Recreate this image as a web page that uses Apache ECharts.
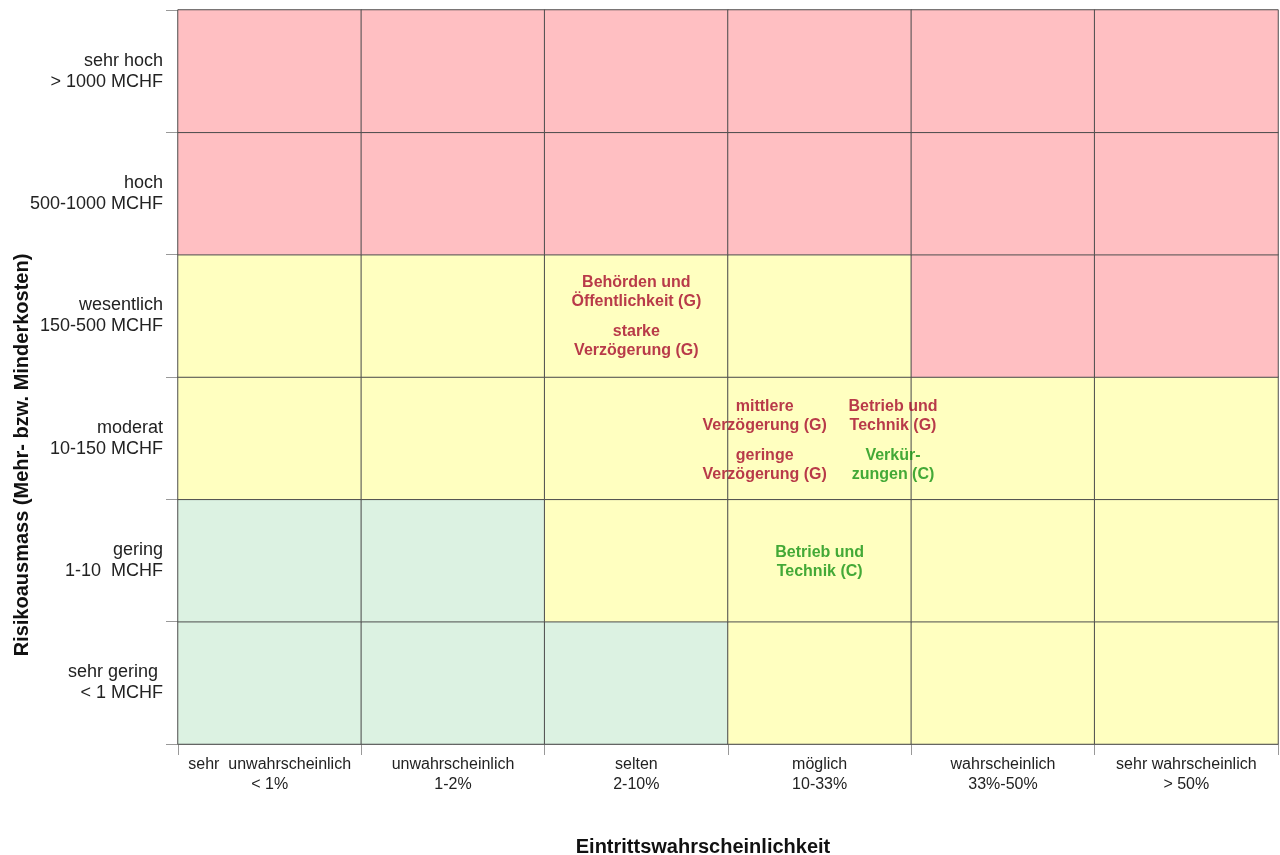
<!DOCTYPE html>
<html>
<head>
<meta charset="utf-8">
<title>Risikomatrix</title>
<script src="https://cdn.jsdelivr.net/npm/echarts@6/dist/echarts.min.js"></script>
<style>
  html, body { margin: 0; padding: 0; background: #ffffff; }
  #chart { width: 1280px; height: 855px; }
</style>
</head>
<body>
<div id="chart"></div>
<script>
// Probability classes (x axis, left to right)
const probabilityLabels = [
  'sehr  unwahrscheinlich\n< 1%',
  'unwahrscheinlich\n1-2%',
  'selten\n2-10%',
  'möglich\n10-33%',
  'wahrscheinlich\n33%-50%',
  'sehr wahrscheinlich\n> 50%'
];

// Impact classes (y axis, bottom to top)
const impactLabels = [
  'sehr gering \n< 1 MCHF',
  'gering\n1-10  MCHF',
  'moderat\n10-150 MCHF',
  'wesentlich\n150-500 MCHF',
  'hoch\n500-1000 MCHF',
  'sehr hoch\n> 1000 MCHF'
];

// Risk level per cell: 0 = gering (grün), 1 = mittel (gelb), 2 = hoch (rot)
// one row per impact class, bottom to top
const riskLevels = [
  [0, 0, 0, 1, 1, 1],
  [0, 0, 1, 1, 1, 1],
  [1, 1, 1, 1, 1, 1],
  [1, 1, 1, 1, 2, 2],
  [2, 2, 2, 2, 2, 2],
  [2, 2, 2, 2, 2, 2]
];

// Risks placed in the matrix (position in class units, G = Gefahr, C = Chance)
const riskNames = [
  'Behörden und\nÖffentlichkeit (G)',
  'starke\nVerzögerung (G)',
  'mittlere\nVerzögerung (G)',
  'geringe\nVerzögerung (G)',
  'Betrieb und\nTechnik (G)',
  'Verkür-\nzungen (C)',
  'Betrieb und\nTechnik (C)'
];
const riskProbability = [2.50, 2.50, 3.20, 3.20, 3.90, 3.90, 3.50];
const riskImpact      = [3.69, 3.29, 2.68, 2.28, 2.68, 2.28, 1.49];
const riskType        = ['G', 'G', 'G', 'G', 'G', 'C', 'C'];

const levelColors = ['#DCF2E2', '#FFFFC0', '#FFBFC2'];
const typeColors = { G: '#A6092B', C: '#149414' };

const cells = [];
riskLevels.forEach((row, r) => row.forEach((lvl, c) => cells.push([c, r, lvl])));

const riskPoints = riskNames.map((n, i) => ({
  name: n,
  value: [riskProbability[i], riskImpact[i]],
  label: { color: typeColors[riskType[i]] }
}));

const chart = echarts.init(document.getElementById('chart'), null, { renderer: 'canvas' });

chart.setOption({
  animation: false,
  backgroundColor: '#ffffff',
  grid: { left: 178, right: 2, top: 10, bottom: 111, outerBoundsMode: 'none', containLabel: false },
  xAxis: [
    {
      type: 'category',
      data: probabilityLabels,
      boundaryGap: true,
      name: 'Eintrittswahrscheinlichkeit',
      nameLocation: 'middle',
      nameGap: 93,
      nameMoveOverlap: false,
      nameTextStyle: {
        fontFamily: 'Liberation Sans, Arial, sans-serif',
        fontSize: 20, fontWeight: 'bold', color: '#111',
        padding: [0, 50, 0, 0]
      },
      axisLine: { show: true, lineStyle: { color: '#999', width: 1 } },
      axisTick: { show: true, length: 11, lineStyle: { color: '#999' } },
      axisLabel: {
        interval: 0, margin: 11,
        fontFamily: 'Liberation Sans, Arial, sans-serif',
        fontSize: 16, lineHeight: 20, color: '#222'
      },
      splitLine: { show: false }
    },
    { type: 'value', min: 0, max: 6, show: false }
  ],
  yAxis: [
    {
      type: 'category',
      data: impactLabels,
      boundaryGap: true,
      name: 'Risikoausmass (Mehr- bzw. Minderkosten)',
      nameLocation: 'middle',
      nameGap: 146,
      nameMoveOverlap: false,
      nameTextStyle: {
        fontFamily: 'Liberation Sans, Arial, sans-serif',
        fontSize: 20, fontWeight: 'bold', color: '#111',
        padding: [0, 156, 0, 0]
      },
      axisLine: { show: true, lineStyle: { color: '#999', width: 1 } },
      axisTick: { show: true, length: 12, lineStyle: { color: '#999' } },
      axisLabel: {
        interval: 0, margin: 15, align: 'right',
        fontFamily: 'Liberation Sans, Arial, sans-serif',
        fontSize: 18, lineHeight: 21, color: '#222'
      },
      splitLine: { show: false }
    },
    { type: 'value', min: 0, max: 6, show: false }
  ],
  visualMap: {
    type: 'piecewise',
    show: false,
    seriesIndex: 0,
    dimension: 2,
    pieces: [
      { value: 0, color: levelColors[0] },
      { value: 1, color: levelColors[1] },
      { value: 2, color: levelColors[2] }
    ]
  },
  series: [
    {
      type: 'heatmap',
      xAxisIndex: 0,
      yAxisIndex: 0,
      data: cells,
      itemStyle: { borderColor: '#4d4d4d', borderWidth: 1 },
      emphasis: { disabled: true },
      label: { show: false }
    },
    {
      type: 'scatter',
      xAxisIndex: 1,
      yAxisIndex: 1,
      symbolSize: 0,
      data: riskPoints,
      z: 5,
      silent: true,
      label: {
        show: true,
        position: 'inside',
        formatter: p => p.name,
        align: 'center',
        verticalAlign: 'middle',
        fontFamily: 'Liberation Sans, Arial, sans-serif',
        fontSize: 16,
        fontWeight: 'bold',
        lineHeight: 19
      }
    }
  ]
});
</script>
</body>
</html>
